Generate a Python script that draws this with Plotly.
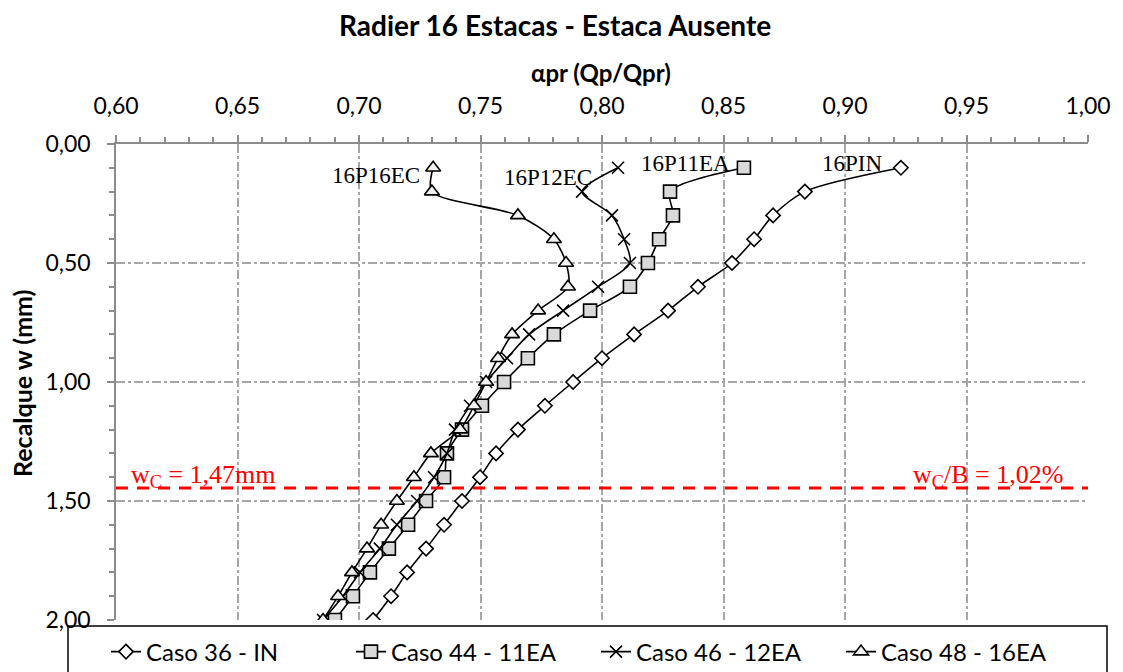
import plotly.graph_objects as go

w = [0.1, 0.2, 0.3, 0.4, 0.5, 0.6, 0.7, 0.8, 0.9, 1.0,
     1.1, 1.2, 1.3, 1.4, 1.5, 1.6, 1.7, 1.8, 1.9, 2.0]

caso36_in = [0.9230, 0.8835, 0.8704, 0.8626, 0.8535, 0.8395, 0.8272, 0.8132, 0.8000, 0.7881,
             0.7765, 0.7654, 0.7564, 0.7498, 0.7424, 0.7350, 0.7276, 0.7198, 0.7132, 0.7058]
caso44_11ea = [0.8584, 0.8280, 0.8292, 0.8235, 0.8189, 0.8115, 0.7951, 0.7802, 0.7695, 0.7597,
               0.7506, 0.7424, 0.7362, 0.7350, 0.7276, 0.7202, 0.7123, 0.7045, 0.6975, 0.6901]
caso46_12ea = [0.8066, 0.7918, 0.8041, 0.8091, 0.8115, 0.7984, 0.7840, 0.7700, 0.7609, 0.7523,
               0.7457, 0.7395, 0.7362, 0.7309, 0.7239, 0.7156, 0.7086, 0.7004, 0.6934, 0.6852]
caso48_16ea = [0.7305, 0.7300, 0.7654, 0.7802, 0.7852, 0.7860, 0.7737, 0.7630, 0.7572, 0.7523,
               0.7473, 0.7416, 0.7296, 0.7226, 0.7156, 0.7091, 0.7033, 0.6971, 0.6914, 0.6852]

series_names = ["Caso 36 - IN", "Caso 44 - 11EA", "Caso 46 - 12EA", "Caso 48 - 16EA"]
curve_labels = ["16PIN", "16P11EA", "16P12EC", "16P16EC"]
label_x = [0.9029, 0.8345, 0.7778, 0.7070]
label_y = [0.08, 0.08, 0.139, 0.134]
wc_line = 1.445  # position of the critical settlement line as drawn
x_ticks = [0.60, 0.65, 0.70, 0.75, 0.80, 0.85, 0.90, 0.95, 1.00]
y_ticks = [0.0, 0.5, 1.0, 1.5, 2.0]

SANS = "Lato, 'Open Sans', sans-serif"
SERIF = "'Liberation Serif', 'Times New Roman', serif"

# page body adds an 8px offset; lay out in reference pixels minus that offset
OFF = 8
W, H = 1123 - OFF, 672 - OFF
L, R, T, B = 116 - OFF, 1088 - OFF, 144 - OFF, 620 - OFF
pw, ph = R - L, B - T


def px(xr):
    return (xr - OFF - L) / pw


def py(yr):
    return (B - (yr - OFF)) / ph


fig = go.Figure()

styles = [
    dict(symbol="diamond", size=11, color="white"),
    dict(symbol="square", size=13, color="#d9d9d9"),
    dict(symbol="x-thin", size=12, color="black"),
    dict(symbol="triangle-up", size=13, color="#f2f2f2"),
]
all_series = [caso36_in, caso44_11ea, caso46_12ea, caso48_16ea]

for name, xs, st in zip(series_names, all_series, styles):
    fig.add_trace(go.Scatter(
        x=xs, y=w, name=name, mode="lines+markers",
        line=dict(color="black", width=1.6, shape="spline", smoothing=0.8),
        marker=dict(symbol=st["symbol"], size=st["size"], color=st["color"],
                    line=dict(color="black", width=1.6)),
    ))

# critical settlement line
fig.add_trace(go.Scatter(
    x=[0.60, 1.00], y=[wc_line, wc_line], mode="lines", showlegend=False,
    line=dict(color="red", width=3, dash="12px,9px"), hoverinfo="skip",
))

# curve labels
for txt, lx, ly in zip(curve_labels, label_x, label_y):
    fig.add_annotation(x=lx, y=ly, text=txt, showarrow=False,
                       xanchor="center", yanchor="middle",
                       font=dict(family=SERIF, size=23, color="black"))

fig.add_annotation(x=0.6055, y=wc_line, yshift=12, xanchor="left", yanchor="middle",
                   text="w<sub>C</sub> = 1,47mm",
                   showarrow=False, font=dict(family=SERIF, size=26, color="red"))
fig.add_annotation(x=0.9907, y=wc_line, yshift=12, xanchor="right", yanchor="middle",
                   text="w<sub>C</sub>/B = 1,02%",
                   showarrow=False, font=dict(family=SERIF, size=26, color="red"))

# titles
fig.add_annotation(xref="paper", yref="paper", x=px(555), y=py(25),
                   xanchor="center", yanchor="middle",
                   text="<b>Radier 16 Estacas - Estaca Ausente</b>", showarrow=False,
                   font=dict(family=SANS, size=28, color="black"))
fig.add_annotation(xref="paper", yref="paper", x=px(601), y=py(72),
                   xanchor="center", yanchor="middle",
                   text="<b>αpr (Qp/Qpr)</b>", showarrow=False,
                   font=dict(family=SANS, size=24, color="black"))
fig.add_annotation(xref="paper", yref="paper", x=px(22), y=py(384),
                   xanchor="center", yanchor="middle",
                   text="<b>Recalque w (mm)</b>", showarrow=False, textangle=-90,
                   font=dict(family=SANS, size=25, color="black"))

# legend box
fig.add_shape(type="rect", xref="paper", yref="paper",
              x0=px(68), x1=px(1107), y0=py(626), y1=py(700),
              line=dict(color="black", width=1.5), fillcolor="white", layer="below")

axis_common = dict(
    showline=True, linecolor="#8c8c8c", linewidth=1.5, mirror=False,
    showgrid=True, gridcolor="#a6a6a6", gridwidth=1.5, griddash="dashdot",
    ticks="outside", ticklen=7, tickcolor="#8c8c8c", tickwidth=1.5,
    tickfont=dict(family=SANS, size=23, color="black"),
    zeroline=False, automargin=False, ticklabelstandoff=12,
)

fig.update_layout(
    width=W, height=H,
    margin=dict(l=L, r=W - R, t=T, b=H - B, autoexpand=False),
    paper_bgcolor="white", plot_bgcolor="white",
    separators=",.",
    xaxis=dict(range=[0.60, 1.00], side="top", tickvals=x_ticks, tickformat=".2f",
               minor=dict(dtick=0.01, ticks="outside", ticklen=5, tickcolor="#8c8c8c",
                          tickwidth=1.5, showgrid=False),
               **axis_common),
    yaxis=dict(range=[2.0, 0.0], tickvals=y_ticks, tickformat=".2f",
               minor=dict(dtick=0.1, ticks="outside", ticklen=5, tickcolor="#8c8c8c",
                          tickwidth=1.5, showgrid=False),
               **axis_common),
    showlegend=True,
    legend=dict(orientation="h", x=px(106), xanchor="left", y=py(652), yanchor="middle",
                font=dict(family=SANS, size=24, color="black"),
                bgcolor="rgba(0,0,0,0)", entrywidth=200, entrywidthmode="pixels"),
)

fig.write_html("out.html")
